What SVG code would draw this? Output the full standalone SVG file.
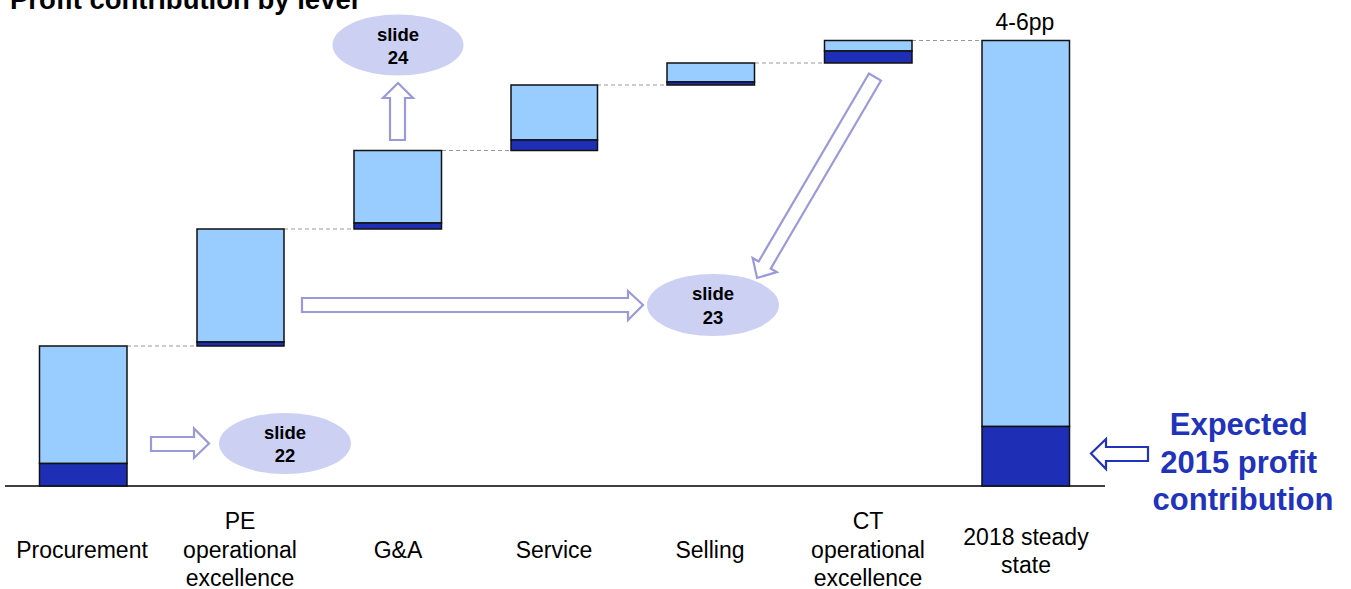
<svg xmlns="http://www.w3.org/2000/svg" width="1351" height="589" viewBox="0 0 1351 589">
<style>
.lt{fill:#99ccff;stroke:#111;stroke-width:1.5}
.dk{fill:#1f2fb5;stroke:#111;stroke-width:1.5}
.dash{stroke:#999;stroke-width:1;stroke-dasharray:4,3;fill:none}
.ell{fill:#ccd1f4}
.st{font-family:"Liberation Sans",Arial,sans-serif;font-weight:bold;font-size:18.5px;fill:#000;text-anchor:middle}
.lbl{font-family:"Liberation Sans",Arial,sans-serif;font-size:23px;fill:#000;text-anchor:middle}
.arr{fill:#fff;stroke:#9a9ada;stroke-width:2.2;stroke-linejoin:miter}
.arrb{fill:#fff;stroke:#2233bb;stroke-width:2.2}
</style>
<text x="10" y="9" font-family="Liberation Sans,Arial,sans-serif" font-weight="bold" font-size="27.5">Profit contribution by lever</text>
<g id="connectors">
<line class="dash" x1="127" y1="346" x2="197" y2="346"/>
<line class="dash" x1="284" y1="229" x2="354" y2="229"/>
<line class="dash" x1="442" y1="150.5" x2="511" y2="150.5"/>
<line class="dash" x1="597" y1="85" x2="667" y2="85"/>
<line class="dash" x1="755" y1="63" x2="824" y2="63"/>
<line class="dash" x1="912" y1="40.5" x2="982" y2="40.5"/>
<polygon class="arr" points="151,437 194,437 194,428.5 209,443.5 194,458 194,451 151,451"/>
<polygon class="arr" points="302,298 628,298 628,291 643,305 628,320 628,312 302,312"/>
<polygon class="arr" points="390,140 390,98 383,98 398,83 413,98 405,98 405,140"/>
<polygon class="arr" transform="translate(875,77) rotate(120.4)" points="0,-7 218,-7 218,-14 233,0 218,14 218,7 0,7"/>
<polygon class="arrb" points="1148,447 1106,447 1106,439 1091,453.5 1106,469 1106,461 1148,461"/>
</g>
<line x1="5" y1="486" x2="1105" y2="486" stroke="#404040" stroke-width="2"/>
<g id="bar-procurement">
<rect class="lt" x="39.5" y="346" width="87.5" height="117.5"/>
<rect class="dk" x="39.5" y="463.5" width="87.5" height="22.5"/>
<text class="lbl" x="82" y="558">Procurement</text>
</g>
<g id="bar-pe">
<rect class="lt" x="197" y="229" width="87" height="113"/>
<rect class="dk" x="197" y="342" width="87" height="4"/>
<text class="lbl" x="240" y="529">PE</text>
<text class="lbl" x="240" y="557.5">operational</text>
<text class="lbl" x="240" y="585.5">excellence</text>
</g>
<g id="bar-ga">
<rect class="lt" x="354" y="150.5" width="87.5" height="72.5"/>
<rect class="dk" x="354" y="223" width="87.5" height="6"/>
<text class="lbl" x="398" y="558">G&amp;A</text>
</g>
<g id="bar-service">
<rect class="lt" x="511" y="85" width="86.5" height="55"/>
<rect class="dk" x="511" y="140" width="86.5" height="10.5"/>
<text class="lbl" x="554" y="558">Service</text>
</g>
<g id="bar-selling">
<rect class="lt" x="667" y="63" width="87.5" height="19"/>
<rect class="dk" x="667" y="82" width="87.5" height="3"/>
<text class="lbl" x="710" y="558">Selling</text>
</g>
<g id="bar-ct">
<rect class="lt" x="824.5" y="40.5" width="87.5" height="10.5"/>
<rect class="dk" x="824.5" y="51" width="87.5" height="12"/>
<text class="lbl" x="868" y="529">CT</text>
<text class="lbl" x="868" y="557.5">operational</text>
<text class="lbl" x="868" y="585.5">excellence</text>
</g>
<g id="bar-2018">
<rect class="lt" x="982" y="40.5" width="87.5" height="386"/>
<rect class="dk" x="982" y="426.5" width="87.5" height="59.5"/>
<text class="lbl" x="1025" y="30" font-size="27">4-6pp</text>
<text class="lbl" x="1026" y="545">2018 steady</text>
<text class="lbl" x="1026" y="573">state</text>
</g>
<g id="slide24">
<ellipse class="ell" cx="398" cy="45" rx="65.5" ry="30.5"/>
<text class="st" x="398" y="41">slide</text>
<text class="st" x="398" y="64">24</text>
</g>
<g id="slide22">
<ellipse class="ell" cx="285" cy="443.5" rx="66" ry="30.5"/>
<text class="st" x="285" y="439">slide</text>
<text class="st" x="285" y="462">22</text>
</g>
<g id="slide23">
<ellipse class="ell" cx="713" cy="305" rx="66" ry="31"/>
<text class="st" x="713" y="300">slide</text>
<text class="st" x="713" y="324">23</text>
</g>
<g id="expected">
<text font-family="Liberation Sans,Arial,sans-serif" font-weight="bold" font-size="31" fill="#2233bb" text-anchor="middle">
<tspan x="1243" y="435">Expected</tspan>
<tspan x="1243" y="472.5">2015 profit</tspan>
<tspan x="1243" y="510">contribution</tspan>
</text>
</g>
</svg>
